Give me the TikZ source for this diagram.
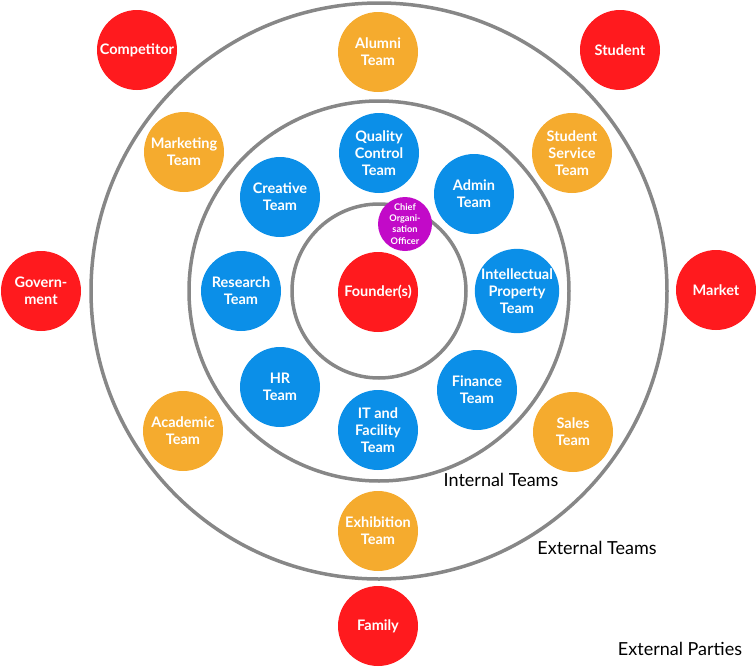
\documentclass[tikz,border=0pt]{standalone}
\usepackage{fontspec}
\setmainfont{Lato}
\definecolor{pred}{RGB}{255,26,30}
\definecolor{porange}{RGB}{245,171,46}
\definecolor{pblue}{RGB}{11,143,232}
\definecolor{ppurple}{RGB}{194,10,200}
\definecolor{pgray}{RGB}{135,135,135}
\tikzset{
  ball/.style={circle, minimum size=80pt, inner sep=0pt, align=center, text=white,
    font=\fontsize{14.5}{16.8}\selectfont\bfseries},
  party/.style={ball, fill=pred},
  extteam/.style={ball, fill=porange},
  intteam/.style={ball, fill=pblue},
  chief/.style={ball, fill=ppurple, minimum size=54pt, font=\fontsize{9.2}{11.2}\selectfont\bfseries},
  ring/.style={draw=pgray, line width=3.5pt},
  lbl/.style={font=\fontsize{18}{21}\selectfont, text=black, inner sep=0pt}
}
\begin{document}
\begin{tikzpicture}[x=1pt,y=-1pt]
\useasboundingbox (0,0) rectangle (756,667);
\coordinate (c) at (379,291);
\draw[ring] (c) circle[radius=288];
\draw[ring] (c) circle[radius=190];
\draw[ring] (c) circle[radius=87];

% external parties
\node[party] (competitor) at (137,50) {Competitor};
\node[party] (student) at (620,50) {Student};
\node[party] (government) at (41,291) {Govern-\\ment};
\node[party] (market) at (716,290) {Market};
\node[party] (family) at (378,626) {Family};

% external teams
\node[extteam] (alumni) at (378,52) {Alumni\\Team};
\node[extteam] (marketing) at (184,152) {Marketing\\Team};
\node[extteam] (studserv) at (572,153) {Student\\Service\\Team};
\node[extteam] (academic) at (183,431) {Academic\\Team};
\node[extteam] (sales) at (573,432) {Sales\\Team};
\node[extteam] (exhibition) at (378,531) {Exhibition\\Team};

% internal teams
\node[intteam] (quality) at (379,153) {Quality\\Control\\Team};
\node[intteam] (creative) at (280,197) {Creative\\Team};
\node[intteam] (admin) at (474,194) {Admin\\Team};
\node[intteam] (research) at (241,291) {Research\\Team};
\node[intteam] (ip) at (517,291) {Intellectual\\Property\\Team};
\node[intteam] (hr) at (280,387) {HR\\Team};
\node[intteam] (finance) at (477,390) {Finance\\Team};
\node[intteam] (it) at (378,430) {IT and\\Facility\\Team};

% core
\node[party] (founder) at (378,292) {Founder(s)};
\node[chief] (coo) at (405,224) {Chief\\Organi-\\sation\\Officer};

% labels
\node[lbl] (internal) at (501,480) {Internal Teams};
\node[lbl] (external) at (597,548) {External Teams};
\node[lbl] (parties) at (680,649) {External Parties};
\end{tikzpicture}
\end{document}
